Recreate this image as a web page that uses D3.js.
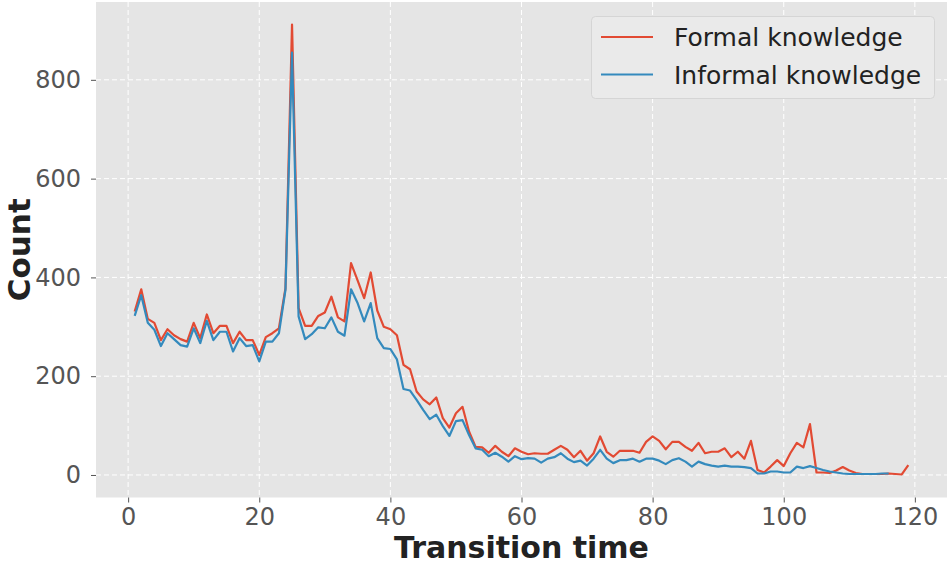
<!DOCTYPE html>
<html><head><meta charset="utf-8">
<script src="https://cdn.jsdelivr.net/npm/d3@7"></script>
<style>body{margin:0;background:#fff;} svg{display:block;font-family:"DejaVu Sans",sans-serif;}</style>
</head><body>
<svg id="c" width="952" height="566"></svg>
<script>
const formal = [331,376,316,308,273,295,283,275,270,308,277,325,287,302,302,267,290,273,273,243,
279,287,297,378,912,338,302,302,322,329,361,319,311,429,394,358,410,333,300,295,
283,223,214,169,153,143,157,115,96,125,138,88,57,56,45,59,47,38,54,47,
42,44,43,43,51,59,51,36,49,29,44,78,47,37,49,49,49,45,67,78,
69,52,67,67,57,49,65,44,47,47,54,36,47,33,69,10,5,17,30,18,
44,65,56,103,5,5,4,9,16,9,4,2,2,2,2,3,2,1,20];
const informal = [322,364,308,294,261,287,275,263,260,297,267,312,273,290,290,250,277,261,263,230,
270,270,287,375,855,321,275,285,299,297,319,290,282,376,348,311,348,277,257,255,
234,174,171,152,132,113,122,99,79,109,111,81,54,51,38,45,37,27,38,32,
34,33,25,33,36,44,33,26,29,19,33,51,33,24,30,30,33,27,33,33,
29,22,30,34,27,17,27,22,19,17,19,17,17,16,14,3,3,7,7,5,
5,17,14,18,14,10,7,5,3,2,2,2,2,2,3,3];
const xTicks = [0,20,40,60,80,100,120];
const yTicks = [0,200,400,600,800];
const seriesNames = ["Formal knowledge","Informal knowledge"];
const colors = ["#E24A33","#348ABD"];

const svg = d3.select("#c");
const L=96, R=947, T=2, B=497.5;
const x = d3.scaleLinear().domain([-4.9,124.9]).range([L,R]);
const y = d3.scaleLinear().domain([-45.6,957.6]).range([B,T]);

svg.append("rect").attr("x",L).attr("y",T).attr("width",R-L).attr("height",B-T).attr("fill","#E5E5E5");

// grid
svg.append("g").selectAll("line").data(xTicks).join("line")
  .attr("x1",d=>x(d)).attr("x2",d=>x(d)).attr("y1",T).attr("y2",B)
  .attr("stroke","#fff").attr("stroke-width",1).attr("stroke-dasharray","5,3");
svg.append("g").selectAll("line").data(yTicks).join("line")
  .attr("y1",d=>y(d)).attr("y2",d=>y(d)).attr("x1",L).attr("x2",R)
  .attr("stroke","#fff").attr("stroke-width",1).attr("stroke-dasharray","5,3");

// axes
const xa = svg.append("g").attr("transform",`translate(0,${B})`)
  .call(d3.axisBottom(x).tickValues(xTicks).tickSize(5).tickPadding(5).tickFormat(d3.format("d")));
const ya = svg.append("g").attr("transform",`translate(${L},0)`)
  .call(d3.axisLeft(y).tickValues(yTicks).tickSize(5).tickPadding(10).tickFormat(d3.format("d")));
[xa,ya].forEach(a=>{
  a.select(".domain").remove();
  a.selectAll(".tick line").attr("stroke","#555").attr("stroke-width",1);
  a.selectAll(".tick text").attr("fill","#555").attr("font-size","24px").attr("font-family","DejaVu Sans");
});

// lines
const series=[formal,informal];
series.forEach((s,i)=>{
  const line=d3.line().x((d,j)=>x(j+1)).y(d=>y(d));
  svg.append("path").datum(s).attr("d",line).attr("fill","none")
    .attr("stroke",colors[i]).attr("stroke-width",2.2).attr("stroke-linejoin","round");
});

// axis labels
svg.append("text").attr("x",(L+R)/2).attr("y",558).attr("text-anchor","middle")
  .attr("font-size","30px").attr("font-weight","bold").attr("fill","#222").text("Transition time");
svg.append("text").attr("transform",`translate(30,${(T+B)/2}) rotate(-90)`).attr("text-anchor","middle")
  .attr("font-size","31px").attr("font-weight","bold").attr("fill","#222").text("Count");

// legend
const lg=svg.append("g");
lg.append("rect").attr("x",591.5).attr("y",16.5).attr("width",343).attr("height",82).attr("rx",4)
  .attr("fill","#EAEAEA").attr("stroke","#D5D5D5").attr("stroke-width",1);
seriesNames.forEach((n,i)=>{
  const yy=37+i*37.5;
  lg.append("line").attr("x1",601).attr("x2",653).attr("y1",yy).attr("y2",yy)
    .attr("stroke",colors[i]).attr("stroke-width",2);
  lg.append("text").attr("x",674).attr("y",yy+9).attr("font-size","25px").attr("fill","#222").text(n);
});
</script>
</body></html>
